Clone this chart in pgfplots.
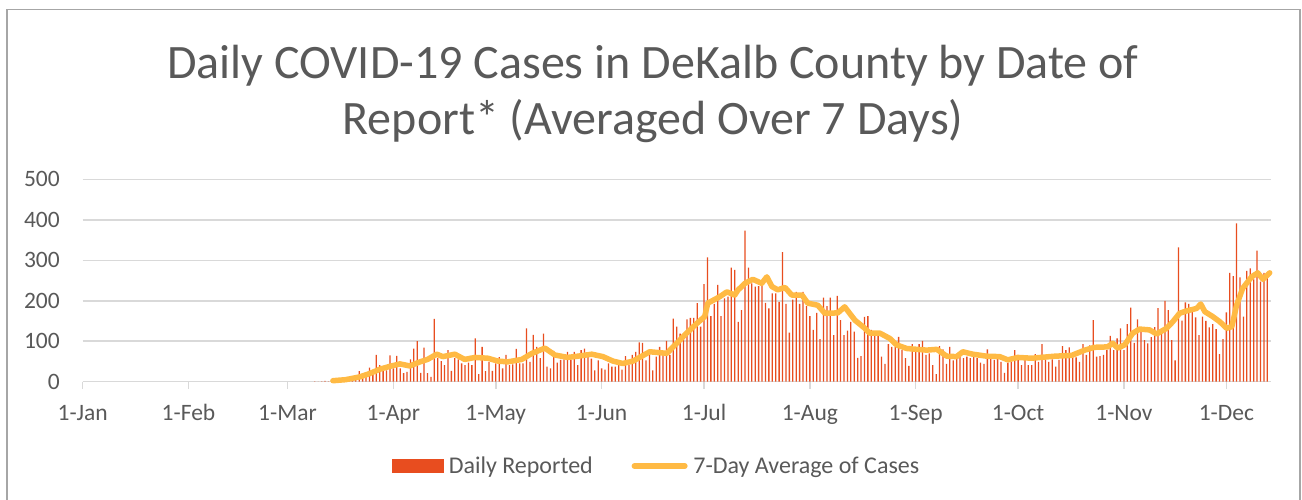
\documentclass[border=0pt]{standalone}
\usepackage{fontspec}
\setmainfont{Carlito}
\usepackage{pgfplots}
\pgfplotsset{compat=1.18}
\definecolor{barred}{HTML}{E84D1F}
\definecolor{lineyellow}{HTML}{FFBA44}
\definecolor{textgray}{HTML}{595959}
\definecolor{gridgray}{HTML}{D9D9D9}
\definecolor{framegray}{HTML}{A6A6A6}
\begin{document}
\begin{tikzpicture}
\useasboundingbox (0,0) rectangle (1302pt,-499pt);
\draw[framegray, line width=1.5pt] (7pt,-505pt) -- (7pt,-9.5pt) -- (1300pt,-9.5pt) -- (1300pt,-505pt);
\node[anchor=base, text=textgray, font=\fontsize{48}{57}\selectfont, inner sep=0pt] at (653pt,-78pt) {Daily COVID-19 Cases in DeKalb County by Date of};
\node[anchor=base, text=textgray, font=\fontsize{48}{57}\selectfont, inner sep=0pt] at (653pt,-134pt) {Report* (Averaged Over 7 Days)};
\begin{axis}[
  at={(82.7pt,-381.7pt)}, anchor=south west,
  scale only axis, width=1188pt, height=202.4pt,
  xmin=0, xmax=348, ymin=0, ymax=500,
  clip=false,
  axis x line*=bottom, axis y line*=left,
  x axis line style={draw=gridgray, line width=1.5pt},
  y axis line style={draw=none},
  ymajorgrids, grid style={draw=gridgray, line width=1.5pt},
  ytick={0,100,200,300,400,500},
  ytick style={draw=none}, ytick align=inside,
  xtick={0,31,60,91,121,152,182,213,244,274,305,335},
  xticklabels={1-Jan,1-Feb,1-Mar,1-Apr,1-May,1-Jun,1-Jul,1-Aug,1-Sep,1-Oct,1-Nov,1-Dec},
  xtick align=outside, major tick length=7pt,
  xtick style={draw=gridgray, line width=1.5pt},
  /pgf/number format/assume math mode=true,
  tick label style={font=\fontsize{23.5}{28}\selectfont, text=textgray, inner sep=0pt},
  xticklabel style={anchor=base, yshift=-32pt},
  yticklabel style={anchor=east, xshift=-22.7pt},
  legend style={at={(0.4834,-0.4165)}, anchor=center, draw=none, fill=none,
    legend columns=2, font=\fontsize{24}{28}\selectfont, text=textgray,
    /tikz/every even column/.append style={column sep=33pt},
    nodes={inner sep=3pt}},
]
\addplot[ybar, bar width=1.3pt, fill=barred, draw=none,
  legend image code/.code={\fill[barred] (0pt,-7pt) rectangle (52pt,7pt);\path (54pt,0pt);}]
coordinates {
(68,1)(69,0)(70,1)(71,2)(72,1)(73,3)(74,4)(75,5)(76,6)(77,8)(78,10)(79,7)(80,12)(81,26)(82,18)(83,15)(84,35)(85,22)(86,66)(87,41)(88,30)(89,28)(90,65)(91,33)(92,64)(93,33)(94,21)(95,24)(96,55)(97,82)(98,100)(99,22)(100,84)(101,21)(102,12)(103,155)(104,58)(105,51)(106,41)(107,78)(108,27)
(109,58)(110,55)(111,45)(112,41)(113,47)(114,41)(115,107)(116,19)(117,86)(118,26)(119,49)(120,27)(121,45)(122,61)(123,33)(124,66)(125,41)(126,43)(127,81)(128,45)(129,45)(130,132)(131,49)(132,116)(133,86)(134,58)(135,119)(136,37)(137,33)(138,76)(139,47)(140,54)(141,55)(142,74)(143,54)(144,74)(145,41)(146,78)(147,82)(148,61)
(149,57)(150,28)(151,53)(152,33)(153,30)(154,45)(155,37)(156,37)(157,41)(158,30)(159,63)(160,41)(161,66)(162,74)(163,97)(164,96)(165,53)(166,66)(167,28)(168,62)(169,86)(170,66)(171,101)(172,66)(173,156)(174,136)(175,119)(176,107)(177,154)(178,158)(179,158)(180,194)(181,136)(182,241)(183,307)(184,162)(185,192)(186,239)(187,162)
(188,206)(189,210)(190,282)(191,276)(192,148)(193,177)(194,373)(195,282)(196,243)(197,235)(198,236)(199,251)(200,195)(201,181)(202,218)(203,218)(204,197)(205,320)(206,192)(207,121)(208,203)(209,222)(210,192)(211,222)(212,187)(213,162)(214,128)(215,170)(216,105)(217,208)(218,187)(219,208)(220,115)(221,212)(222,152)(223,115)(224,126)(225,148)(226,124)(227,59)
(228,63)(229,160)(230,162)(231,128)(232,124)(233,124)(234,62)(235,44)(236,93)(237,86)(238,86)(239,111)(240,78)(241,58)(242,39)(243,93)(244,78)(245,93)(246,101)(247,66)(248,70)(249,41)(250,19)(251,88)(252,80)(253,44)(254,86)(255,53)(256,62)(257,66)(258,58)(259,62)(260,58)(261,62)(262,58)(263,47)(264,44)(265,80)(266,62)
(267,54)(268,58)(269,49)(270,22)(271,47)(272,49)(273,78)(274,63)(275,41)(276,54)(277,41)(278,41)(279,68)(280,49)(281,93)(282,58)(283,49)(284,55)(285,37)(286,54)(287,88)(288,78)(289,85)(290,60)(291,60)(292,49)(293,93)(294,66)(295,90)(296,152)(297,62)(298,63)(299,66)(300,78)(301,113)(302,78)(303,107)(304,132)(305,78)(306,142)
(307,183)(308,96)(309,154)(310,129)(311,103)(312,95)(313,110)(314,135)(315,182)(316,130)(317,200)(318,177)(319,103)(320,53)(321,332)(322,151)(323,196)(324,192)(325,177)(326,159)(327,115)(328,161)(329,150)(330,134)(331,142)(332,130)(333,68)(334,105)(335,171)(336,269)(337,261)(338,391)(339,258)(340,161)(341,274)(342,280)(343,253)(344,324)(345,247)(346,269)(347,269)
};
\addlegendentry{Daily Reported}
\addplot[lineyellow, line width=5.5pt, line join=round, line cap=round,
  legend image code/.code={\draw[lineyellow, line width=5.5pt, line cap=round] (2.75pt,0pt) -- (53.25pt,0pt);\path (0pt,0pt) (56pt,0pt);}]
coordinates {
(73.3,2.5)(77,5)(81.2,12)(84,20)(87.1,31)(90,38)(92.9,44)(95.8,39)(98.8,49)(101,55)(103.7,68)(105.5,62)(109,68)(111.9,55)(114.9,60)(118.7,58)(121.6,51)(124.5,49)(128.6,55)(131.6,70)(135.4,83)(138.3,66)(142.1,60)(145,63)(149.1,68)(152.4,62)(155.3,51)(158.2,45)(161.2,51)(166.1,74)(171.1,70)(174,95)(176.9,120)(179.9,144)(182.2,161)(183.1,194)(186.6,210)(188.7,222)(191,214)(191.9,226)(194,243)(196.3,253)(198.9,243)(200.4,259)(201.9,235)(203.6,227)(205.7,233)(207.7,214)(210.7,214)(212.4,194)(215.3,189)(217.4,169)(221.2,170)(223.2,185)(226.2,152)(229.1,132)(230.5,120)(233.5,120)(236.4,107)(238.4,91)(241.4,82)(247.2,78)(250.2,80)(253.1,63)(256,62)(257.8,74)(260.7,68)(264.8,63)(268.6,62)(271,54)(273.9,60)(278,58)(284.7,63)(289.7,65)(293.5,78)(296.4,85)(300.2,86)(301.7,95)(303.2,83)(305.2,91)(307.6,120)(309.6,130)(312.5,128)(314.6,118)(317.5,132)(319.3,148)(321.3,169)(323.4,175)(326.3,181)(327.5,192)(328.7,173)(331,161)(333.1,148)(335.1,132)(336.6,136)(338,189)(339.8,231)(342.4,259)(344.2,269)(345.7,253)(347.7,269)
};
\addlegendentry{7-Day Average of Cases}
\end{axis}
\end{tikzpicture}
\end{document}
